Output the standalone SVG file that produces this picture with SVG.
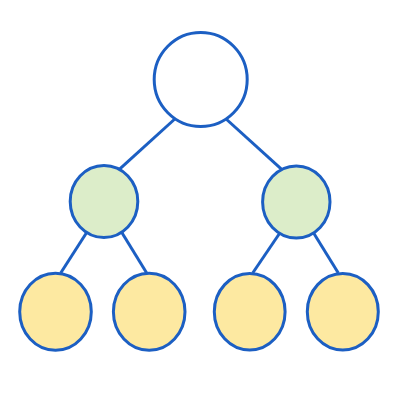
<svg xmlns="http://www.w3.org/2000/svg" width="400" height="400" viewBox="0 0 400 400">
<style>
.n{stroke:#1c5fc3;stroke-width:3}
.e{stroke:#1c5fc3;stroke-width:3;fill:none}
.root{fill:#ffffff}
.mid{fill:#dcedc9}
.leaf{fill:#fde9a1}
</style>
<rect width="400" height="400" fill="#ffffff"/>
<g id="edges">
<line class="e" x1="177" y1="117" x2="119.3" y2="169.3"/>
<line class="e" x1="225" y1="118" x2="281.7" y2="169.3"/>
<line class="e" x1="87" y1="232" x2="60.7" y2="273"/>
<line class="e" x1="121.5" y1="232" x2="146.7" y2="273"/>
<line class="e" x1="280.5" y1="232" x2="252.7" y2="273"/>
<line class="e" x1="313" y1="232" x2="338.3" y2="273"/>
</g>
<g id="root"><ellipse class="n root" cx="200.7" cy="79.5" rx="46.5" ry="47"/></g>
<g id="m1"><ellipse class="n mid" cx="104" cy="201.5" rx="33.8" ry="36"/></g>
<g id="m2"><ellipse class="n mid" cx="296.3" cy="202" rx="33.7" ry="36"/></g>
<g id="l1"><ellipse class="n leaf" cx="55.5" cy="311.7" rx="35.8" ry="38.5"/></g>
<g id="l2"><ellipse class="n leaf" cx="149.2" cy="311.7" rx="35.8" ry="38.5"/></g>
<g id="l3"><ellipse class="n leaf" cx="249.7" cy="311.7" rx="35.4" ry="38.3"/></g>
<g id="l4"><ellipse class="n leaf" cx="342.8" cy="311.7" rx="35.5" ry="38.3"/></g>
</svg>
